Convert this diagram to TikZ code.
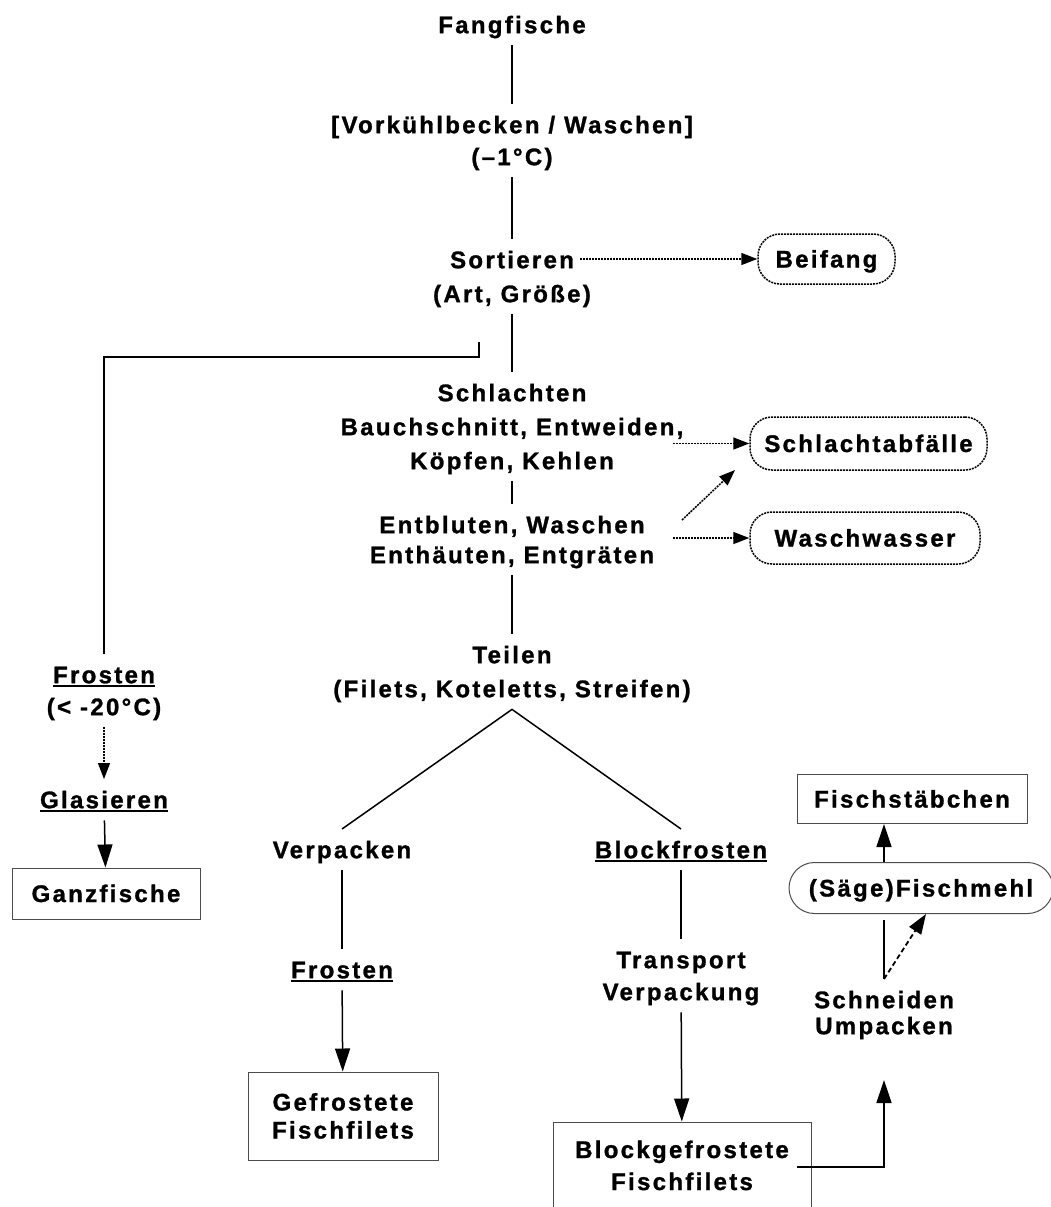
\documentclass[tikz,border=0pt]{standalone}
\usepackage{fontspec}
\setmainfont{Liberation Sans Bold}[LetterSpace=9.6, FakeBold=1.2]
\usetikzlibrary{arrows.meta,shapes.misc}

% struts so every label has the same top and bottom
\newcommand\hs{\rule{0pt}{23pt}}
\newcommand\ds{\rule[-6pt]{0pt}{6pt}}
% underline for the freezing steps
\newcommand\ustr[1]{\leavevmode\setbox0=\hbox{#1}\rlap{\rule[-3.5pt]{\wd0}{1.5pt}}\box0}
\lineskiplimit=-100pt

\tikzset{
  lbl/.style={align=center, inner sep=6pt, anchor=north},
  endbox/.style={draw=black!70, line width=1pt, align=center, inner sep=0pt},
  waste/.style={draw, line width=1.5pt, dash pattern=on 2pt off 1pt, rounded corners=22pt, inner sep=0pt},
  flow/.style={line width=1.5pt},
  flowarrow/.style={flow, -{Triangle[length=23pt,width=15pt]}},
  dotarrow/.style={line width=1.5pt, dash pattern=on 2pt off 1pt, -{Triangle[length=16pt,width=12pt]}},
  dasharrow/.style={line width=1.8pt, dash pattern=on 5pt off 3pt, -{Triangle[length=20pt,width=14pt]}},
}

\begin{document}
\begin{tikzpicture}[x=1pt, y=-1pt, font=\fontsize{24}{32}\selectfont]
  \useasboundingbox (0,0) rectangle (1051,1207);

  % main line
  \node[lbl] (fang) at (512,4) {\hs Fangfische\ds};
  \node[lbl] (vork) at (512,104) {\hs [Vorkühlbecken / Waschen]\\ (–1°C)\ds};
  \node[lbl] (sort) at (512,239) {\hs Sortieren\\[2pt] (Art, Größe)\ds};
  \node[lbl] (schl) at (512,372) {\hs Schlachten\\[2pt] Bauchschnitt, Entweiden,\\[2pt] Köpfen, Kehlen\ds};
  \node[lbl] (ent) at (512,504) {\hs Entbluten, Waschen\\[-2pt] Enthäuten, Entgräten\ds};
  \node[lbl] (teil) at (512,634) {\hs Teilen\\[2pt] (Filets, Koteletts, Streifen)\ds};

  % by-products
  \node[waste, minimum width=137pt, minimum height=50pt] (beifang) at (826.5,259) {\hs Beifang\ds};
  \node[waste, minimum width=237pt, minimum height=53pt] (abf) at (868.5,443.5) {\hs Schlachtabfälle\ds};
  \node[waste, minimum width=230pt, minimum height=52pt] (wasch) at (865,538) {\hs Waschwasser\ds};

  % whole fish
  \node[lbl] (frost1) at (104,654) {\hs\ustr{Frosten}\\ (< -20°C)\ds};
  \node[lbl] (glas) at (104,779) {\hs\ustr{Glasieren}\ds};
  \node[endbox, minimum width=188pt, minimum height=51pt] (ganz) at (106,893.5) {\hs Ganzfische\ds};

  % fillets
  \node[lbl] (verp) at (342,829) {\hs Verpacken\ds};
  \node[lbl] (frost2) at (342,949) {\hs\ustr{Frosten}\ds};
  \node[endbox, minimum width=190pt, minimum height=88pt] (gefr) at (343,1116) {\hs Gefrostete\\[-4pt] Fischfilets\ds};

  % block frozen
  \node[lbl] (block) at (681,829) {\hs\ustr{Blockfrosten}\ds};
  \node[lbl] (transp) at (681,939) {\hs Transport\\ Verpackung\ds};
  \node[endbox, minimum width=258pt, minimum height=87pt] (bgf) at (682,1165.5) {\hs Blockgefrostete\\ Fischfilets\ds};

  % fish sticks
  \node[lbl] (schn) at (884,979) {\hs Schneiden\\[-6pt] Umpacken\ds};
  \node[endbox, rounded rectangle, minimum width=264pt, minimum height=51pt] (mehl) at (921,888) {\hs (Säge)Fischmehl\ds};
  \node[endbox, minimum width=230pt, minimum height=49pt] (staeb) at (912,799) {\hs Fischstäbchen\ds};

  \coordinate (brtop) at (479,342);
  \coordinate (sortout) at (580,259);
  \coordinate (schlout) at (673,443.5);
  \coordinate (entout) at (673,538);
  \coordinate (entne) at (682,520);
  \coordinate (abfsw) at (735,470);
  \coordinate (bgfout) at (797,1167);
  \coordinate (schnin) at (884,1080);

  \draw[flow] (fang) -- (vork);
  \draw[flow] (vork) -- (sort);
  \draw[flow] (sort) -- (schl);
  \draw[flow] (schl) -- (ent);
  \draw[flow] (ent) -- (teil);
  \draw[flow] (verp.north) -- (teil.south) -- (block.north);

  \draw[dotarrow] (sortout) -- (beifang.west);
  \draw[dotarrow] (schlout) -- (abf.west);
  \draw[dotarrow] (entne) -- (abfsw);
  \draw[dotarrow] (entout) -- (wasch.west);

  \draw[flow] (brtop) -- (479,357) -| (frost1.north);
  \draw[dotarrow] (frost1) -- (glas);
  \draw[flowarrow] (glas) -- (ganz);

  \draw[flow] (verp) -- (frost2);
  \draw[flowarrow] (frost2) -- (gefr);

  \draw[flow] (block) -- (transp);
  \draw[flowarrow] (transp) -- (bgf);

  \draw[flowarrow] (bgfout) -| (schnin);
  \draw[flow, shorten >=6pt] (schn.north) -- (schn.north |- mehl.south);
  \draw[dasharrow] (schn.north) -- ([xshift=5pt]mehl.south);
  \draw[flowarrow] (schn |- mehl.north) -- (schn |- staeb.south);
\end{tikzpicture}
\end{document}
